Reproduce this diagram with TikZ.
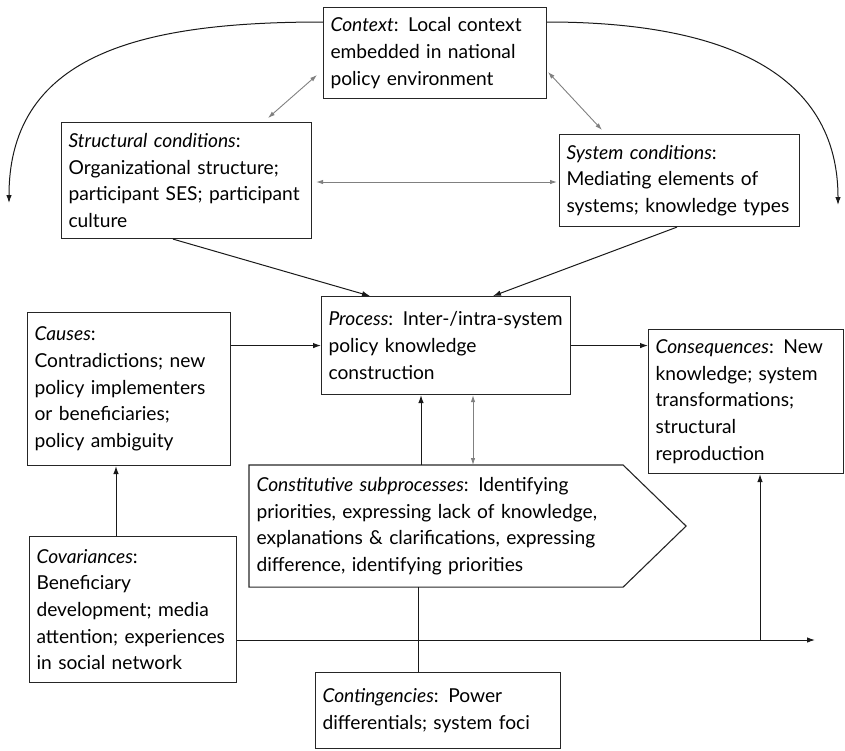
\documentclass[tikz,border=0pt]{standalone}
\usepackage{fontspec}
\setmainfont{Lato}
\usetikzlibrary{arrows.meta,calc}

\begin{document}
\begin{tikzpicture}[x=1pt,y=-1pt,
  box/.style={draw=black!85, line width=1.1pt, anchor=north west, align=left,
    inner xsep=7pt, inner ysep=0pt,
    font=\fontsize{19.2}{26.7}\selectfont},
  flow/.style={draw=black!90, line width=1pt, -{Latex[length=8pt,width=5.5pt]}},
  link/.style={draw=black!90, line width=1pt},
  mutual/.style={draw=black!50, line width=0.9pt, {Latex[length=7pt,width=4.5pt]}-{Latex[length=7pt,width=4.5pt]}}
]
\useasboundingbox (0,0) rectangle (845,750);

% boxes: text width = box width - 14, minimum height = box height
\node[box, text width=209pt, minimum height=91pt] (ctx) at (323,7)
  {\textit{Context}: Local context\\embedded in national\\policy environment};
\node[box, text width=236pt, minimum height=116pt] (str) at (61,122)
  {\textit{Structural conditions}:\\Organizational structure;\\participant SES; participant\\culture};
\node[box, text width=226pt, minimum height=92pt] (sys) at (559,134)
  {\textit{System conditions}:\\Mediating elements of\\systems; knowledge types};
\node[box, text width=235pt, minimum height=98pt] (proc) at (321,296)
  {\textit{Process}: Inter-/intra-system\\policy knowledge\\construction};
\node[box, text width=189pt, minimum height=153pt] (cause) at (27,312)
  {\textit{Causes}:\\Contradictions; new\\policy implementers\\or beneficiaries;\\policy ambiguity};
\node[box, text width=181pt, minimum height=144pt] (cons) at (648,329)
  {\textit{Consequences}: New\\knowledge; system\\transformations;\\structural\\reproduction};
\node[box, draw=none, text width=359pt, minimum height=121pt] (sub) at (249,465)
  {\textit{Constitutive subprocesses}: Identifying\\priorities, expressing lack of knowledge,\\explanations \& clarifications, expressing\\difference, identifying priorities};
\node[box, text width=193pt, minimum height=146pt] (cov) at (29,536)
  {\textit{Covariances}:\\Beneficiary\\development; media\\attention; experiences\\in social network};
\node[box, text width=231pt, minimum height=76pt] (cont) at (315,672)
  {\textit{Contingencies}: Power\\differentials; system foci};

% pointed outline of the subprocess box
\draw[draw=black!85, line width=1.1pt]
  (sub.north west) -- (sub.north east) -- ($(sub.east)+(63,0)$)
  -- (sub.south east) -- (sub.south west) -- cycle;

% context feeds back to both sides
\coordinate (ctxL) at ($(ctx.north west)+(0,15)$);
\coordinate (ctxR) at ($(ctx.north east)+(0,15)$);
\coordinate (endL) at (9,203);
\coordinate (endR) at (838,205);
\draw[flow] (ctxL) .. controls (150,22) and (9,50) .. (endL);
\draw[flow] (ctxR) .. controls (700,22) and (838,60) .. (endR);

% mutual influences among the conditions
\coordinate (cs1) at (317,75);  \coordinate (cs2) at (268,118);
\coordinate (cy1) at (548,72);  \coordinate (cy2) at (602,130);
\draw[mutual] (cs1) -- (cs2);
\draw[mutual] (cy1) -- (cy2);
\draw[mutual] ($(str.north east)+(4,60)$) -- ($(sys.north west)+(-2,48)$);

% conditions into the process
\draw[flow] ($(str.south west)+(112,0)$) -- ($(proc.north west)+(49,0)$);
\draw[flow] ($(sys.south west)+(118,0)$) -- ($(proc.north west)+(172,0)$);

% causes, process, consequences
\draw[flow] (proc.west -| cause.east) -- (proc.west);
\draw[flow] (proc.east) -- (proc.east -| cons.west);

% subprocesses and the process
\coordinate (subU) at ($(sub.north west)+(172,0)$);
\draw[flow] (subU) -- (subU |- proc.south);
\coordinate (subM) at ($(sub.north west)+(224,0)$);
\draw[mutual] (subM |- proc.south) -- (subM);

% covariances
\coordinate (covU) at ($(cov.north west)+(87,0)$);
\draw[flow] (covU) -- (covU |- cause.south);
\coordinate (covR) at ($(cov.north east)+(0,104)$);
\coordinate (axisEnd) at (815,640);
\draw[flow] (covR) -- (axisEnd);
\coordinate (consU) at (760,640);
\draw[flow] (consU) -- (consU |- cons.south);

% contingencies line
\coordinate (subD) at ($(sub.south west)+(169,0)$);
\draw[link] (subD) -- (subD |- cont.north);
\end{tikzpicture}
\end{document}
